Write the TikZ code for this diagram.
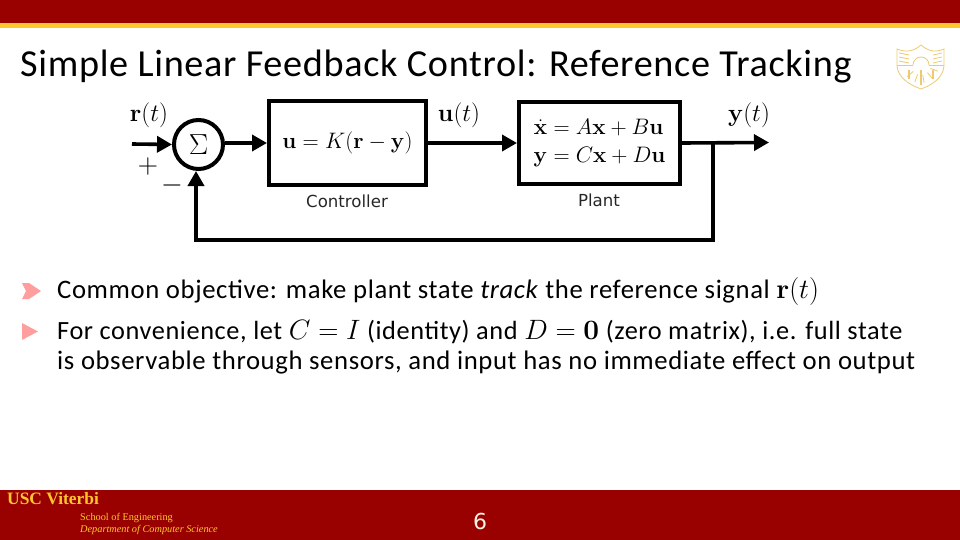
\documentclass[tikz,border=0pt]{standalone}
\usepackage{fix-cm}
\usepackage{amsmath}
\usepackage[no-math]{fontspec}
\setmainfont{Carlito}
\newfontfamily\titlefont[LetterSpace=1.8]{Carlito}
\newfontfamily\bodyfont[LetterSpace=2.3]{Carlito}
\newfontfamily\captionfont{DejaVu Sans}
\newfontfamily\footfont{Liberation Serif}
\usetikzlibrary{arrows.meta}
\definecolor{uscRed}{HTML}{990000}
\definecolor{uscGold}{HTML}{FFC72C}
\definecolor{bulletPink}{HTML}{FF9E9E}
\definecolor{logoGold}{HTML}{EBCB6E}
\newcommand{\bodymath}[1]{{\fontsize{28}{30}\selectfont$#1$}}
\tikzset{
  >=Triangle,
  % everything is placed in reference pixels
  slidetitle/.style={
    anchor=base west,
    inner sep=0pt,
    text=black,
    font=\titlefont\fontsize{38.2}{44}\selectfont
  },
  bodytext/.style={
    anchor=base west,
    inner sep=0pt,
    text=black,
    font=\bodyfont\fontsize{26.7}{30}\selectfont
  },
  blockbox/.style={
    draw=black,
    line width=4pt,
    fill=white,
    inner sep=0pt,
    align=center,
    font=\fontsize{22.4}{27}\selectfont
  },
  sumnode/.style={
    circle,
    draw=black,
    line width=4pt,
    fill=white,
    minimum size=49pt,
    inner sep=0pt,
    font=\fontsize{29}{29}\selectfont
  },
  arrow/.style={
    -{Triangle[length=15pt,width=16pt]},
    line width=3.6pt,
    draw=black
  },
  lab/.style={
    inner sep=0pt,
    font=\fontsize{25}{28}\selectfont
  },
  blocklab/.style={
    inner sep=0pt,
    text=black!85,
    font=\captionfont\fontsize{16.6}{19}\selectfont
  },
  foothead/.style={
    anchor=base west,
    inner sep=0pt,
    text=uscGold,
    font=\footfont\bfseries\fontsize{17.4}{20}\selectfont
  },
  footsmall/.style={
    anchor=base west,
    inner sep=0pt,
    text=uscGold,
    font=\footfont\fontsize{10.3}{12}\selectfont
  },
  bulletmark/.style={fill=bulletPink},
  logoline/.style={draw=logoGold,line width=0.8pt}
}
\begin{document}
\begin{tikzpicture}[x=1pt,y=-1pt]
\useasboundingbox (0,0) rectangle (960,540);

% slide frame
\fill[uscRed] (0,0) rectangle (960,23);
\fill[uscGold] (0,23) rectangle (960,28);
\fill[uscRed] (0,490) rectangle (960,540);

\node[slidetitle] (title) at (20,77) {Simple Linear Feedback Control: Reference Tracking};

% shield
\draw[logoline] (897,49) .. controls (907,53) and (914,51) .. (921,45) .. controls (928,51) and (935,53) .. (944,49) -- (944,66) .. controls (943,78) and (932,85) .. (921,89) .. controls (910,85) and (898,78) .. (897,66) -- cycle;
\draw[logoline] (897,65) -- (913,65);
\draw[logoline] (929,65) -- (944,65);
\draw[logoline] (913,65) arc[start angle=180,end angle=0,radius=8pt];
\foreach \ang in {20,50,...,160}{
  \draw[logoline] (921,65) ++(-\ang:10pt) -- ++(-\ang:8pt);
}
\foreach \ty in {53,57,61}{
  \draw[logoline] (899,\ty) -- (909,\ty+2);
  \draw[logoline] (942,\ty) -- (933,\ty+2);
}
\foreach \tx/\tb in {909/79,921/85,933/79}{
  \draw[logoline,line width=1.4pt] (\tx,70) -- (\tx,\tb);
}

% block diagram
\node[sumnode] (sum) at (198.5,144.5) {$\Sigma$};
\node[blockbox, minimum width=157pt, minimum height=84pt] (controller) at (347.5,143) {$\mathbf{u}=K(\mathbf{r}-\mathbf{y})$};
\node[blockbox, minimum width=161pt, minimum height=82pt] (plant) at (599.5,143)
{$\begin{aligned}\dot{\mathbf{x}}&=A\mathbf{x}+B\mathbf{u}\\[-2pt]\mathbf{y}&=C\mathbf{x}+D\mathbf{u}\end{aligned}$};

\coordinate (rin) at (132,144);
\coordinate (yout) at (769,142.5);
\coordinate (fbk) at (713,142.5);
\coordinate (fbcorner) at (196,240);

\draw[arrow] (rin) -- (sum.west);
\draw[arrow] (sum.east |- controller.west) -- (controller.west);
\draw[arrow] (controller.east) -- (plant.west);
\draw[arrow] (plant.east) -- (yout);
\draw[arrow] (fbk) |- (fbcorner) -- (fbcorner |- sum.south);

\node[lab] (rlab) at (149,115) {$\mathbf{r}(t)$};
\node[lab] (ulab) at (459,115) {$\mathbf{u}(t)$};
\node[lab] (ylab) at (749,115) {$\mathbf{y}(t)$};
\node[lab, font=\fontsize{28}{28}\selectfont] (plus) at (148,167) {$+$};
\node[lab, font=\fontsize{28}{28}\selectfont] (minus) at (172,186) {$-$};
\node[blocklab] (clab) at (347,201) {Controller};
\node[blocklab] (plab) at (599,200) {Plant};

% bullets
\fill[bulletmark] (22,283) -- (29,283) -- (41,291) -- (29,299) -- (22,299) -- (26,291) -- cycle;
\fill[bulletmark] (22,323) -- (38,331.5) -- (22,340) -- cycle;

\node[bodytext] (line1) at (57,298) {Common objective: make plant state \textit{track} the reference signal \bodymath{\mathbf{r}(t)}};
\node[bodytext, font=\bodyfont\fontsize{26.3}{30}\selectfont] (line2) at (57,339) {For convenience, let \bodymath{C=I} (identity) and \bodymath{D=\mathbf{0}} (zero matrix), i.e. full state};
\node[bodytext] (line3) at (57,369) {is observable through sensors, and input has no immediate effect on output};

% footer
\node[foothead] (usc) at (7,504) {USC Viterbi};
\node[footsmall] (school) at (80,520) {School of Engineering};
\node[footsmall, font=\footfont\itshape\fontsize{10.3}{12}\selectfont] (dept) at (80,532) {Department of Computer Science};
\node[inner sep=0pt, text=white!90!orange, font=\captionfont\fontsize{22}{24}\selectfont] (pagenum) at (480,521) {6};

\end{tikzpicture}
\end{document}
